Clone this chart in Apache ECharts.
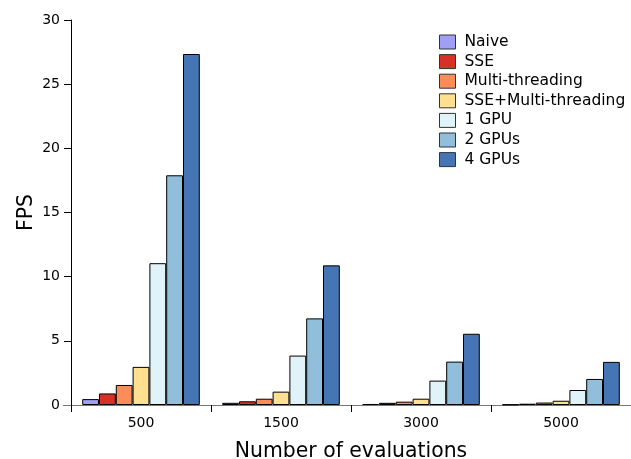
<!DOCTYPE html>
<html><head><meta charset="utf-8">
<script src="https://cdn.jsdelivr.net/npm/echarts@6/dist/echarts.min.js"></script>
<style>html,body{margin:0;padding:0;background:#fff}#c{width:631px;height:459px}</style>
</head><body><div id="c"></div>
<script>
const categories = ['500', '1500', '3000', '5000'];
const seriesNames = ['Naive', 'SSE', 'Multi-threading', 'SSE+Multi-threading', '1 GPU', '2 GPUs', '4 GPUs'];
const naive = [0.46, 0.17, 0.08, 0.04];
const sse = [0.9, 0.29, 0.17, 0.1];
const multiThreading = [1.56, 0.49, 0.26, 0.19];
const sseMultiThreading = [2.97, 1.04, 0.49, 0.33];
const gpu1 = [11.05, 3.85, 1.9, 1.17];
const gpu2 = [17.9, 6.75, 3.38, 2.03];
const gpu4 = [27.35, 10.88, 5.55, 3.36];
const yTicks = [0, 5, 10, 15, 20, 25, 30];
const colors = ['#9f9ff5', '#d73027', '#fc8d59', '#fee090', '#e0f3f8', '#91bfdb', '#4575b4'];
const values = [naive, sse, multiThreading, sseMultiThreading, gpu1, gpu2, gpu4];

const chart = echarts.init(document.getElementById('c'), null, {renderer: 'canvas'});
const font = 'DejaVu Sans';
chart.setOption({
  animation: false,
  backgroundColor: '#fff',
  grid: {left: 71, right: 0, top: 20, bottom: 54, containLabel: false, outerBoundsMode: 'none'},
  legend: {
    orient: 'vertical', left: 434, top: 29,
    itemWidth: 16, itemHeight: 14, itemGap: 3.6,
    icon: 'rect',
    itemStyle: {borderColor: '#333', borderWidth: 1},
    textStyle: {fontFamily: font, fontSize: 15.5, color: '#000', padding: [0, 0, 0, 4]},
    data: seriesNames
  },
  xAxis: {
    type: 'category', data: categories,
    name: 'Number of evaluations', nameLocation: 'middle', nameGap: 37, nameMoveOverlap: false,
    nameTextStyle: {fontFamily: font, fontSize: 20.4, color: '#000'},
    axisLine: {lineStyle: {color: '#777', width: 1}},
    axisTick: {show: true, length: 7, inside: false, lineStyle: {color: '#000'}},
    axisLabel: {fontFamily: font, fontSize: 14, color: '#000', margin: 11}
  },
  yAxis: {
    type: 'value', min: 0, max: 30, interval: 5,
    name: 'FPS', nameLocation: 'middle', nameGap: 34, nameRotate: 90, nameMoveOverlap: false,
    nameTextStyle: {fontFamily: font, fontSize: 20.4, color: '#000'},
    axisLine: {show: true, lineStyle: {color: '#000', width: 1}},
    axisTick: {show: true, length: 7, lineStyle: {color: '#000'}},
    axisLabel: {fontFamily: font, fontSize: 14, color: '#000', margin: 11,
      formatter: v => yTicks.includes(v) ? String(v) : ''},
    splitLine: {show: false}
  },
  series: seriesNames.map((n, i) => ({
    name: n, type: 'bar', data: values[i],
    barGap: '0%', barCategoryGap: '16%',
    itemStyle: {color: colors[i], borderColor: '#000', borderWidth: 1}
  }))
});
// axis spine extensions (decoration): y spine continues below zero, x spine begins left of y spine
const origin = chart.convertToPixel({xAxisIndex: 0, yAxisIndex: 0}, [0, 0]);
const gx = chart.getModel().getComponent('grid').coordinateSystem.getRect().x;
chart.setOption({
  graphic: [
    {type: 'line', shape: {x1: gx + 0.5, y1: origin[1], x2: gx + 0.5, y2: origin[1] + 7}, style: {stroke: '#000', lineWidth: 1}, z: 10},
    {type: 'line', shape: {x1: gx - 8, y1: origin[1] + 0.5, x2: gx, y2: origin[1] + 0.5}, style: {stroke: '#777', lineWidth: 1}, z: 10}
  ]
});
</script></body></html>
